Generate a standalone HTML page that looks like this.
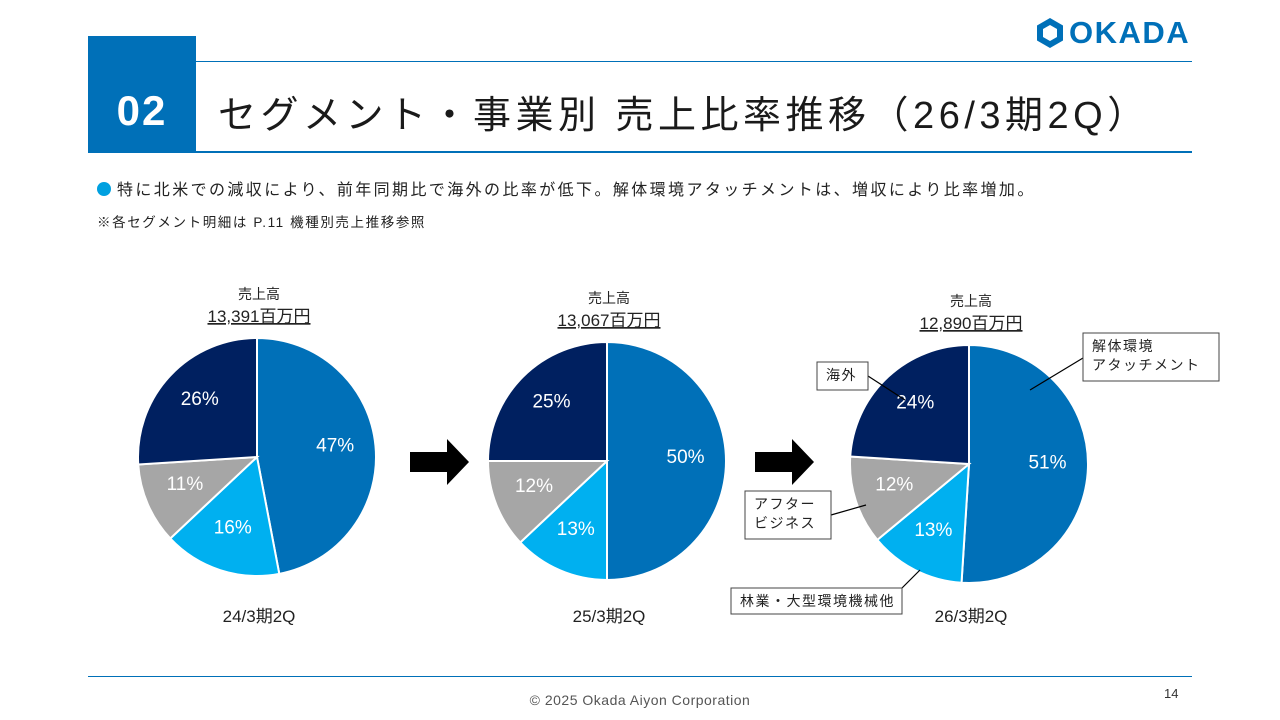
<!DOCTYPE html>
<html><head><meta charset="utf-8"><style>
body{margin:0;width:1280px;height:720px;background:#fff;position:relative;overflow:hidden;font-family:"Liberation Sans","Noto Sans CJK JP",sans-serif;color:#222}
.a{position:absolute;white-space:nowrap}
</style></head><body>
<div class="a" style="left:88px;top:36px;width:108px;height:116px;background:#0070b8;color:#fff;font-size:42px;font-weight:bold;display:flex;align-items:center;justify-content:center;padding-top:34px;box-sizing:border-box;letter-spacing:2px">02</div>
<div class="a" style="left:196px;top:61px;width:996px;height:1px;background:#0070b8"></div>
<div class="a" style="left:88px;top:151px;width:1104px;height:2px;background:#0070b8"></div>
<div class="a" style="left:218px;top:84px;font-size:38px;color:#1a1a1a;letter-spacing:4.5px">セグメント・事業別 売上比率推移（26/3期2Q）</div>
<div class="a" style="left:1035px;top:15px;display:flex;align-items:center;color:#0070b8;font-weight:bold;font-size:31px">
<svg width="30" height="32" viewBox="0 0 30 32"><polygon points="15,1 28,8.5 28,23.5 15,31 2,23.5 2,8.5" fill="#0070b8"/><polygon points="15,8 22,12 22,20 15,24 8,20 8,12" fill="#fff"/></svg><span style="margin-left:4px;letter-spacing:1.5px">OKADA</span></div>
<div class="a" style="left:97px;top:176px;font-size:16px;letter-spacing:2.4px"><span style="display:inline-block;width:14px;height:14px;border-radius:50%;background:#00a0e0;vertical-align:-1px;margin-right:6px"></span>特に北米での減収により、前年同期比で海外の比率が低下。解体環境アタッチメントは、増収により比率増加。</div>
<div class="a" style="left:97px;top:211px;font-size:13.5px;letter-spacing:1.6px">※各セグメント明細は P.11 機種別売上推移参照</div>
<svg class="a" style="left:0;top:0" width="1280" height="720" id="chart"></svg>
<div class="a" style="left:88px;top:676px;width:1104px;height:1px;background:#0070b8"></div>
<div class="a" style="left:0;width:1280px;text-align:center;top:692px;font-size:14px;color:#555;letter-spacing:0.5px">© 2025 Okada Aiyon Corporation</div>
<div class="a" style="left:1164px;top:686px;font-size:13px;color:#333">14</div>
<script>
const periods=["24/3期2Q","25/3期2Q","26/3期2Q"];
const totals=["13,391百万円","13,067百万円","12,890百万円"];
const segments=["解体環境アタッチメント","林業・大型環境機械他","アフタービジネス","海外"];
const shares=[[47,16,11,26],[50,13,12,25],[51,13,12,24]];
const colors=["#0070b8","#00b0f0","#a6a6a6","#002060"];
const centers=[[257,457],[607,461],[969,464]];
const R=119;
const svg=document.getElementById('chart');
const NS="http://www.w3.org/2000/svg";
function mk(t,a,p){const e=document.createElementNS(NS,t);for(const k in a)e.setAttribute(k,a[k]);(p||svg).appendChild(e);return e;}
function pt(cx,cy,r,f){const a=f*2*Math.PI;return [cx+r*Math.sin(a),cy-r*Math.cos(a)];}
shares.forEach((vals,i)=>{
 const [cx,cy]=centers[i];const tot=vals.reduce((a,b)=>a+b,0);let acc=0;
 vals.forEach((v,j)=>{
  const f0=acc/tot,f1=(acc+v)/tot;acc+=v;
  const p0=pt(cx,cy,R,f0),p1=pt(cx,cy,R,f1);
  const p=mk('path',{d:`M${cx},${cy}L${p0[0]},${p0[1]}A${R},${R} 0 ${f1-f0>0.5?1:0} 1 ${p1[0]},${p1[1]}Z`,fill:colors[j],stroke:'#fff','stroke-width':2});
  
  
  const l=pt(cx,cy,R*0.66,(f0+f1)/2);
  const t=mk('text',{x:l[0],y:l[1]+2,'text-anchor':'middle','font-size':19,fill:'#fff'});t.textContent=v+'%';
  
  
 });
 const h=mk('text',{x:cx+2,y:centers[i][1]-158,'text-anchor':'middle','font-size':14,fill:'#222'});h.textContent='売上高';
 
 
 const tt=mk('text',{x:cx+2,y:centers[i][1]-135,'text-anchor':'middle','font-size':17,fill:'#222','text-decoration':'underline'});tt.textContent=totals[i];
 
 
 const pl=mk('text',{x:cx+2,y:622,'text-anchor':'middle','font-size':17,fill:'#222'});pl.textContent=periods[i];
 
 
});
[[410,462],[755,462]].forEach(([x,y])=>{
 const a=mk('polygon',{points:`${x},${y-10} ${x+37},${y-10} ${x+37},${y-23} ${x+59},${y} ${x+37},${y+23} ${x+37},${y+10} ${x},${y+10}`,fill:'#000'});
 
 
});
const callouts=[
 {box:[1083,333,136,48],lines:["解体環境","アタッチメント"],l:[1083,358,1030,390]},
 {box:[817,362,51,28],lines:["海外"],l:[868,376,905,400]},
 {box:[745,491,86,48],lines:["アフター","ビジネス"],l:[831,515,866,505]},
 {box:[731,588,171,26],lines:["林業・大型環境機械他"],l:[902,588,920,570]}
];
callouts.forEach(c=>{
 mk('line',{x1:c.l[0],y1:c.l[1],x2:c.l[2],y2:c.l[3],stroke:'#000','stroke-width':1.2});
 const r=mk('rect',{x:c.box[0],y:c.box[1],width:c.box[2],height:c.box[3],fill:'#fff',stroke:'#444','stroke-width':1});
 
 
 c.lines.forEach((s,k)=>{const t=mk('text',{x:c.box[0]+9,y:c.box[1]+18+k*19,'font-size':14,fill:'#222','letter-spacing':1.5});t.textContent=s;
  
  });
});
</script>
</body></html>
